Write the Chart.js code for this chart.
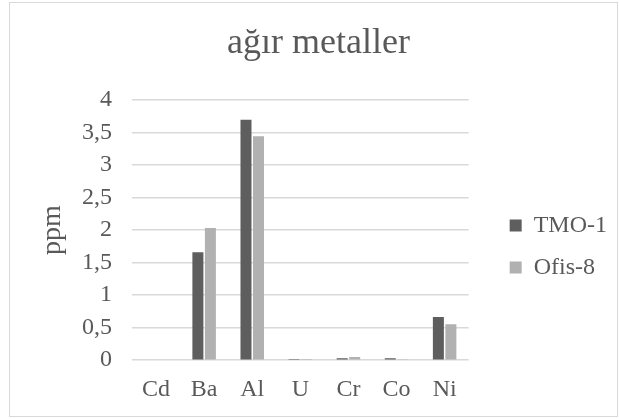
<!DOCTYPE html>
<html>
<head>
<meta charset="utf-8">
<script src="https://cdn.jsdelivr.net/npm/chart.js@4"></script>
<style>
  html, body { margin: 0; padding: 0; background: #fff; }
</style>
</head>
<body>
<canvas id="chart" width="619" height="419"></canvas>
<script>
const categories = ["Cd", "Ba", "Al", "U", "Cr", "Co", "Ni"];
const tmo1 = [0, 1.66, 3.7, 0.004, 0.03, 0.03, 0.666];
const ofis8 = [0, 2.035, 3.446, 0.003, 0.05, 0.015, 0.554];
const yTicks = [0, 0.5, 1, 1.5, 2, 2.5, 3, 3.5, 4];

const textColor = "#595959";
const serif = "'Liberation Serif', 'Times New Roman', serif";

// white background + thin frame round the whole chart
const frame = {
    id: "frame",
    beforeDraw(chart) {
        const ctx = chart.ctx;
        ctx.save();
        ctx.fillStyle = "#fff";
        ctx.fillRect(0, 0, chart.width, chart.height);
        ctx.strokeStyle = "#d9d9d9";
        ctx.lineWidth = 1;
        ctx.strokeRect(9.5, 2.5, 608, 414);
        ctx.restore();
    }
};

const ctx = document.getElementById("chart").getContext("2d");
new Chart(ctx, {
    type: "bar",
    data: {
        labels: categories,
        datasets: [
            { label: "TMO-1", data: tmo1, backgroundColor: "#5e5e5e" },
            { label: "Ofis-8", data: ofis8, backgroundColor: "#b1b1b1" }
        ]
    },
    options: {
        responsive: false,
        animation: false,
        categoryPercentage: 0.52,
        barPercentage: 0.88,
        layout: { padding: { left: 20, right: 2, top: 0, bottom: 8 } },
        plugins: {
            title: {
                display: true,
                text: "ağır metaller",
                color: textColor,
                font: { family: serif, size: 36, weight: "normal" },
                padding: { top: 22, bottom: 35 }
            },
            legend: {
                position: "right",
                maxWidth: 130,
                // empty legend title only pushes the entries down a bit
                title: { display: true, text: "", font: { size: 10 }, padding: { top: 70, bottom: 0 } },
                labels: {
                    color: textColor,
                    font: { family: serif, size: 24 },
                    boxWidth: 12,
                    boxHeight: 12,
                    padding: 18
                }
            },
            tooltip: { enabled: false }
        },
        scales: {
            x: {
                grid: { display: false },
                border: { display: false },
                ticks: {
                    color: textColor,
                    font: { family: serif, size: 24 },
                    padding: 7
                }
            },
            y: {
                min: 0,
                max: 4,
                afterBuildTicks: axis => { axis.ticks = yTicks.map(v => ({ value: v })); },
                afterFit: axis => { axis.width = 112; },
                grid: { color: "#d9d9d9", lineWidth: 1.5, drawTicks: false },
                border: { display: false },
                ticks: {
                    autoSkip: false,
                    color: textColor,
                    font: { family: serif, size: 24 },
                    padding: 20,
                    callback: v => String(v).replace(".", ",")
                },
                title: {
                    display: true,
                    text: "ppm",
                    color: textColor,
                    font: { family: serif, size: 28 },
                    padding: { top: 16, bottom: 0 }
                }
            },
            // empty strip between plot and legend
            gap: {
                position: "right",
                display: true,
                grid: { display: false },
                border: { display: false },
                ticks: { display: false },
                afterFit: axis => { axis.width = 23; }
            }
        }
    },
    plugins: [frame]
});
</script>
</body>
</html>
